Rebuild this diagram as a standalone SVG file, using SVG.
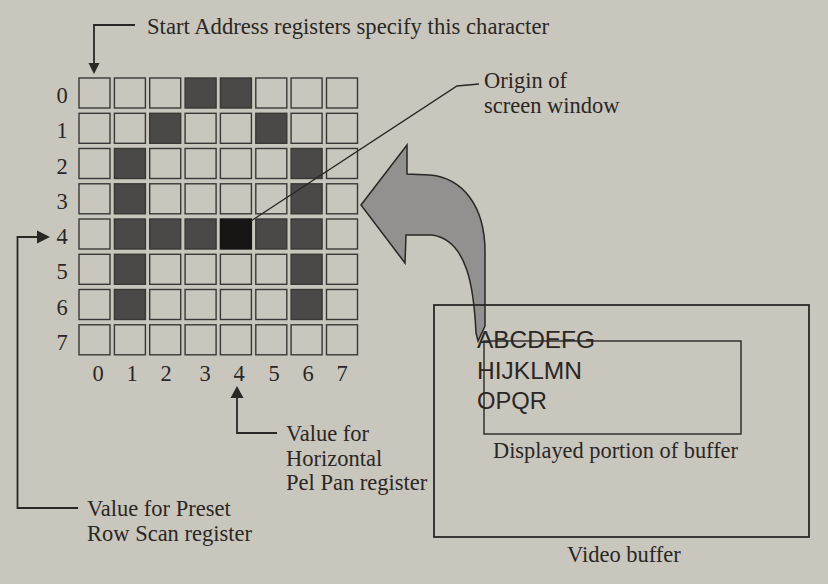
<svg xmlns="http://www.w3.org/2000/svg" width="828" height="584" viewBox="0 0 828 584">
<defs>
<style>
.bg{fill:#c9c6bd}
.cell{fill:#c9c6bd;stroke:#3a3836;stroke-width:1.4}
.dark{fill:#4b4948;stroke:#3a3836;stroke-width:1.4}
.black{fill:#171615;stroke:#171615;stroke-width:1.4}
.ln{fill:none;stroke:#2a2725;stroke-width:1.8}
.thin{fill:none;stroke:#2a2725;stroke-width:1.4}
.head{fill:#2a2725}
.t{font-family:"Liberation Serif","Times New Roman",serif;font-size:22.5px;fill:#2a2725}
.n{font-family:"Liberation Serif","Times New Roman",serif;font-size:22.5px;fill:#2a2725;text-anchor:middle}
.s{font-family:"Liberation Sans",Arial,sans-serif;font-size:24px;fill:#2a2725}
</style>
</defs>
<rect class="bg" x="0" y="0" width="828" height="584"/>

<g id="grid">
<g id="row0">
<rect class="cell" x="79" y="78" width="31" height="30"/>
<rect class="cell" x="114.4" y="78" width="31" height="30"/>
<rect class="cell" x="149.7" y="78" width="31" height="30"/>
<rect class="dark" x="185.1" y="78" width="31" height="30"/>
<rect class="dark" x="220.4" y="78" width="31" height="30"/>
<rect class="cell" x="255.8" y="78" width="31" height="30"/>
<rect class="cell" x="291.1" y="78" width="31" height="30"/>
<rect class="cell" x="326.5" y="78" width="31" height="30"/>
</g>
<g id="row1">
<rect class="cell" x="79" y="113.3" width="31" height="30"/>
<rect class="cell" x="114.4" y="113.3" width="31" height="30"/>
<rect class="dark" x="149.7" y="113.3" width="31" height="30"/>
<rect class="cell" x="185.1" y="113.3" width="31" height="30"/>
<rect class="cell" x="220.4" y="113.3" width="31" height="30"/>
<rect class="dark" x="255.8" y="113.3" width="31" height="30"/>
<rect class="cell" x="291.1" y="113.3" width="31" height="30"/>
<rect class="cell" x="326.5" y="113.3" width="31" height="30"/>
</g>
<g id="row2">
<rect class="cell" x="79" y="148.5" width="31" height="30"/>
<rect class="dark" x="114.4" y="148.5" width="31" height="30"/>
<rect class="cell" x="149.7" y="148.5" width="31" height="30"/>
<rect class="cell" x="185.1" y="148.5" width="31" height="30"/>
<rect class="cell" x="220.4" y="148.5" width="31" height="30"/>
<rect class="cell" x="255.8" y="148.5" width="31" height="30"/>
<rect class="dark" x="291.1" y="148.5" width="31" height="30"/>
<rect class="cell" x="326.5" y="148.5" width="31" height="30"/>
</g>
<g id="row3">
<rect class="cell" x="79" y="183.8" width="31" height="30"/>
<rect class="dark" x="114.4" y="183.8" width="31" height="30"/>
<rect class="cell" x="149.7" y="183.8" width="31" height="30"/>
<rect class="cell" x="185.1" y="183.8" width="31" height="30"/>
<rect class="cell" x="220.4" y="183.8" width="31" height="30"/>
<rect class="cell" x="255.8" y="183.8" width="31" height="30"/>
<rect class="dark" x="291.1" y="183.8" width="31" height="30"/>
<rect class="cell" x="326.5" y="183.8" width="31" height="30"/>
</g>
<g id="row4">
<rect class="cell" x="79" y="219" width="31" height="30"/>
<rect class="dark" x="114.4" y="219" width="31" height="30"/>
<rect class="dark" x="149.7" y="219" width="31" height="30"/>
<rect class="dark" x="185.1" y="219" width="31" height="30"/>
<rect class="black" x="220.4" y="219" width="31" height="30"/>
<rect class="dark" x="255.8" y="219" width="31" height="30"/>
<rect class="dark" x="291.1" y="219" width="31" height="30"/>
<rect class="cell" x="326.5" y="219" width="31" height="30"/>
</g>
<g id="row5">
<rect class="cell" x="79" y="254.3" width="31" height="30"/>
<rect class="dark" x="114.4" y="254.3" width="31" height="30"/>
<rect class="cell" x="149.7" y="254.3" width="31" height="30"/>
<rect class="cell" x="185.1" y="254.3" width="31" height="30"/>
<rect class="cell" x="220.4" y="254.3" width="31" height="30"/>
<rect class="cell" x="255.8" y="254.3" width="31" height="30"/>
<rect class="dark" x="291.1" y="254.3" width="31" height="30"/>
<rect class="cell" x="326.5" y="254.3" width="31" height="30"/>
</g>
<g id="row6">
<rect class="cell" x="79" y="289.5" width="31" height="30"/>
<rect class="dark" x="114.4" y="289.5" width="31" height="30"/>
<rect class="cell" x="149.7" y="289.5" width="31" height="30"/>
<rect class="cell" x="185.1" y="289.5" width="31" height="30"/>
<rect class="cell" x="220.4" y="289.5" width="31" height="30"/>
<rect class="cell" x="255.8" y="289.5" width="31" height="30"/>
<rect class="dark" x="291.1" y="289.5" width="31" height="30"/>
<rect class="cell" x="326.5" y="289.5" width="31" height="30"/>
</g>
<g id="row7">
<rect class="cell" x="79" y="324.8" width="31" height="30"/>
<rect class="cell" x="114.4" y="324.8" width="31" height="30"/>
<rect class="cell" x="149.7" y="324.8" width="31" height="30"/>
<rect class="cell" x="185.1" y="324.8" width="31" height="30"/>
<rect class="cell" x="220.4" y="324.8" width="31" height="30"/>
<rect class="cell" x="255.8" y="324.8" width="31" height="30"/>
<rect class="cell" x="291.1" y="324.8" width="31" height="30"/>
<rect class="cell" x="326.5" y="324.8" width="31" height="30"/>
</g>
</g>

<g id="row-labels">
<text class="n" x="62" y="103">0</text>
<text class="n" x="62" y="138.3">1</text>
<text class="n" x="62" y="173.5">2</text>
<text class="n" x="62" y="208.8">3</text>
<text class="n" x="62" y="244">4</text>
<text class="n" x="62" y="279.3">5</text>
<text class="n" x="62" y="314.5">6</text>
<text class="n" x="62" y="349.8">7</text>
</g>
<g id="col-labels">
<text class="n" x="98" y="381">0</text>
<text class="n" x="132" y="381">1</text>
<text class="n" x="166" y="381">2</text>
<text class="n" x="205" y="381">3</text>
<text class="n" x="239" y="381">4</text>
<text class="n" x="274" y="381">5</text>
<text class="n" x="308" y="381">6</text>
<text class="n" x="342" y="381">7</text>
</g>

<g id="big-arrow">
<path d="M361,205 L407,145 L407,174 L430,175 C462,178 485,205 485,252 L485,326 L478,341 L476,333 C474,290 468,240 432,235 L406,235 L405,263 Z" fill="#939190" stroke="#2a2725" stroke-width="1.5" stroke-linejoin="miter"/>
</g>

<g id="video-buffer">
<rect x="434" y="305" width="375" height="232" fill="none" stroke="#2a2725" stroke-width="1.8"/>
<text class="t" x="567" y="562">Video buffer</text>
</g>
<g id="displayed-portion">
<text class="s" x="477" y="348" textLength="118" lengthAdjust="spacingAndGlyphs">ABCDEFG</text>
<text class="s" x="477" y="379" textLength="105" lengthAdjust="spacingAndGlyphs">HIJKLMN</text>
<text class="s" x="477" y="409" textLength="70" lengthAdjust="spacingAndGlyphs">OPQR</text>
<rect x="484" y="341" width="257" height="93" fill="none" stroke="#2a2725" stroke-width="1.4"/>
<text class="t" x="493" y="458" textLength="245" lengthAdjust="spacingAndGlyphs">Displayed portion of buffer</text>
</g>

<g id="labels">
<text class="t" x="147" y="34" textLength="402" lengthAdjust="spacingAndGlyphs">Start Address registers specify this character</text>
<text class="t" x="484" y="88">Origin of</text>
<text class="t" x="484" y="113">screen window</text>
<text class="t" x="286" y="441">Value for</text>
<text class="t" x="286" y="466">Horizontal</text>
<text class="t" x="286" y="490">Pel Pan register</text>
<text class="t" x="87" y="516">Value for Preset</text>
<text class="t" x="87" y="541">Row Scan register</text>
</g>

<g id="connectors">
<polyline class="ln" points="135,25 94,25 94,65"/>
<polygon class="head" points="88.5,63 99.5,63 94,74"/>
<polyline class="thin" points="251,221 457,86 479,84"/>
<polyline class="ln" points="38,237 17.5,237 17.5,508 78,508"/>
<polygon class="head" points="37,230.5 37,243.5 50,237"/>
<polyline class="ln" points="237,396 237,433 277,433"/>
<polygon class="head" points="230.5,398 243.5,398 237,386"/>
</g>
</svg>
